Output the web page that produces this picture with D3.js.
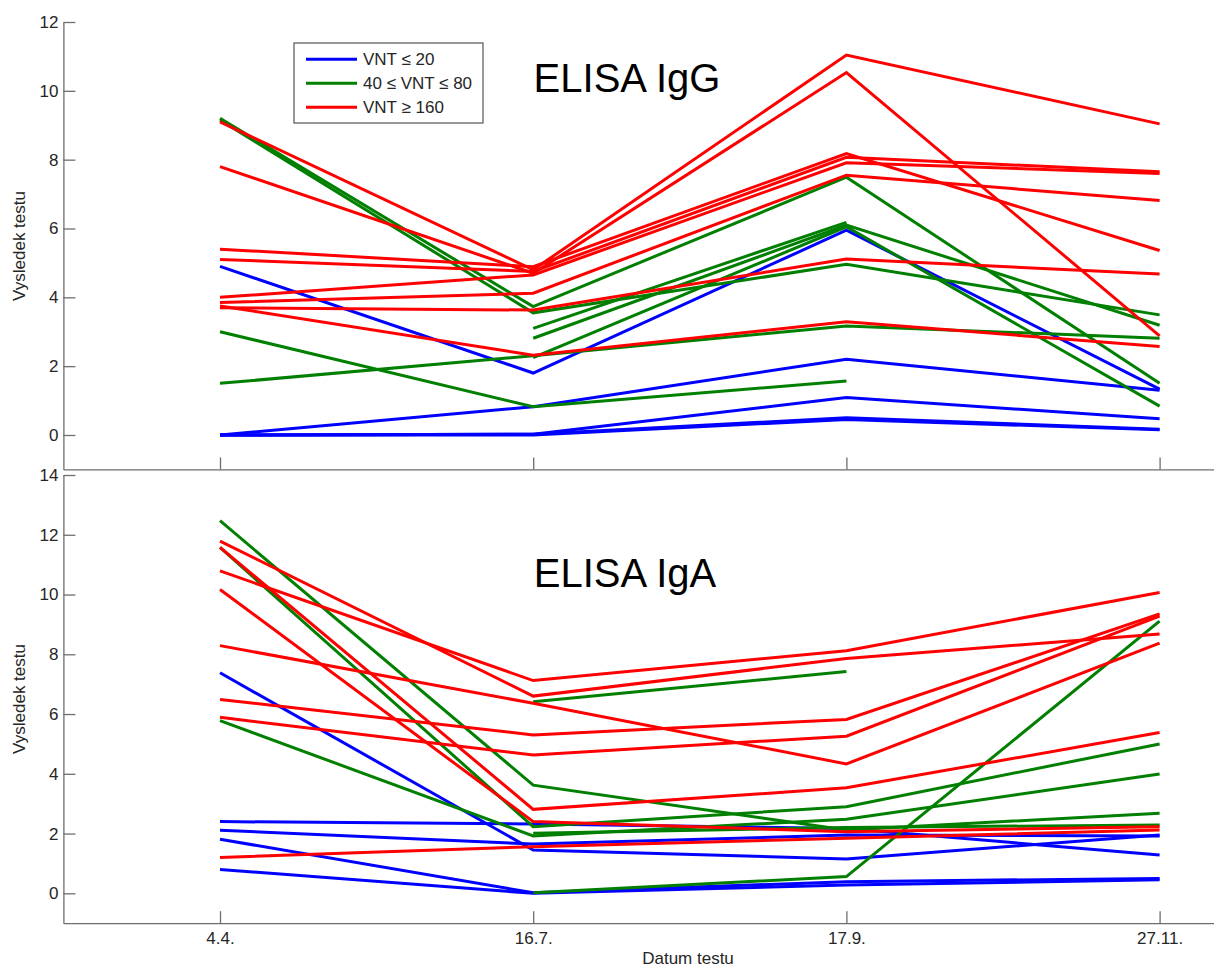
<!DOCTYPE html>
<html>
<head>
<meta charset="utf-8">
<script src="https://cdn.jsdelivr.net/npm/d3@7"></script>
<style>
  html, body { margin: 0; padding: 0; background: #fff; }
  svg { display: block; font-family: "Liberation Sans", Arial, Helvetica, sans-serif; }
</style>
</head>
<body>
<svg id="chart" width="1214" height="969"></svg>
<script>
// ---- data ----
const dates = ["4.4.", "16.7.", "17.9.", "27.11."];
const groupNames = ["VNT \u2264 20", "40 \u2264 VNT \u2264 80", "VNT \u2265 160"];
const groupColors = ["#0000ff", "#007f00", "#ff0000"];
const yTicksIgG = [0, 2, 4, 6, 8, 10, 12];
const yTicksIgA = [0, 2, 4, 6, 8, 10, 12, 14];

// ELISA IgG, one row per subject, columns = dates (null = not measured)
const iggLow = [
  [4.9, 1.8, 5.95, 1.33],
  [0, 0.82, 2.2, 1.3],
  [0, 0.02, 1.09, 0.47],
  [0, 0.02, 0.5, 0.17],
  [0, 0, 0.45, 0.15]
];
const iggMid = [
  [9.2, 3.73, 7.49, 1.5],
  [9.15, 3.55, 4.96, 3.49],
  [3.0, 0.82, 1.57, null],
  [1.5, 2.3, 3.17, 2.81],
  [null, 3.1, 6.18, null],
  [null, 2.81, 6.1, 3.19],
  [null, 2.25, 6.05, 0.84]
];
const iggHigh = [
  [9.1, 4.8, 11.04, 9.04],
  [7.8, 4.7, 10.53, 2.88],
  [5.4, 4.89, 8.18, 5.36],
  [5.1, 4.75, 8.07, 7.65],
  [4.0, 4.65, 7.91, 7.6],
  [3.85, 4.12, 7.55, 6.81],
  [3.7, 3.63, 5.11, 4.68],
  [3.75, 2.32, 3.29, 2.57]
];

// ELISA IgA
const igaLow = [
  [7.38, 1.45, 1.15, 1.95],
  [2.4, 2.32, 2.17, 1.28],
  [2.11, 1.65, 1.95, 1.92],
  [1.81, 0.02, 0.39, 0.5],
  [0.8, 0.0, 0.28, 0.45]
];
const igaMid = [
  [12.47, 3.62, 2.12, 2.68],
  [11.58, 2.23, 2.9, 5.0],
  [5.78, 1.92, 2.48, 3.99],
  [null, 2.01, 2.2, 2.29],
  [null, 6.41, 7.42, null],
  [null, 0.02, 0.56, 9.11]
];
const igaHigh = [
  [11.79, 6.6, 7.86, 8.68],
  [10.79, 7.12, 8.12, 10.07],
  [8.29, 6.36, 4.33, 8.37],
  [6.49, 5.3, 5.82, 9.35],
  [5.89, 4.63, 5.26, 9.28],
  [11.58, 2.81, 3.53, 5.38],
  [10.17, 2.4, 2.06, 2.23],
  [1.2, 1.56, 1.84, 2.12]
];

// ---- drawing ----
const svg = d3.select("#chart");
const axisColor = "#6e6e6e";
const textColor = "#262626";
const fontSize = 17;

const x = d3.scaleLinear().domain([0.5, 4.5]).range([63.4, 1316.2]);

const panels = [
  { title: "ELISA IgG", groups: [iggLow, iggMid, iggHigh], domain: [-1, 12], range: [469.4, 22], ticks: yTicksIgG,
    showX: false, titleX: 627, titleY: 92, ylabY: 246 },
  { title: "ELISA IgA", groups: [igaLow, igaMid, igaHigh], domain: [-1, 14], range: [923.2, 475], ticks: yTicksIgA,
    showX: true, titleX: 625, titleY: 587, ylabY: 699 }
];

panels.forEach(p => {
  const y = d3.scaleLinear().domain(p.domain).range(p.range);
  const g = svg.append("g");

  // axes
  const yAxis = d3.axisLeft(y).tickValues(p.ticks).tickSize(-12).tickSizeOuter(0).tickPadding(5);
  const ya = g.append("g").attr("transform", `translate(${x.range()[0]},0)`).call(yAxis);
  const xAxis = d3.axisBottom(x).tickValues([1, 2, 3, 4]).tickSize(-12).tickSizeOuter(0).tickPadding(9)
    .tickFormat(d => p.showX ? dates[d - 1] : "");
  const xa = g.append("g").attr("transform", `translate(0,${p.range[0]})`).call(xAxis);
  [ya, xa].forEach(a => {
    a.selectAll("path.domain").attr("stroke", axisColor).attr("stroke-width", 1.3);
    a.selectAll(".tick line").attr("stroke", axisColor).attr("stroke-width", 1.3);
    a.selectAll(".tick text").attr("fill", textColor).attr("font-size", fontSize)
      .attr("font-family", "Liberation Sans, Arial, sans-serif");
  });

  // y label
  g.append("text")
    .attr("transform", `translate(25,${p.ylabY}) rotate(-90)`)
    .attr("text-anchor", "middle")
    .attr("font-size", fontSize)
    .attr("fill", textColor)
    .text("Vysledek testu");

  // lines
  const line = d3.line()
    .defined(d => d.v !== null)
    .x(d => x(d.i + 1))
    .y(d => y(d.v));

  p.groups.forEach((rows, gi) => {
    rows.forEach(row => {
      g.append("path")
        .datum(row.map((v, i) => ({ i, v })))
        .attr("d", line)
        .attr("fill", "none")
        .attr("stroke", groupColors[gi])
        .attr("stroke-width", 3);
    });
  });

  // title
  g.append("text")
    .attr("x", p.titleX).attr("y", p.titleY)
    .attr("text-anchor", "middle")
    .attr("font-size", 40)
    .attr("fill", "#000")
    .text(p.title);
});

// x label
svg.append("text")
  .attr("x", 688).attr("y", 964)
  .attr("text-anchor", "middle")
  .attr("font-size", fontSize)
  .attr("fill", textColor)
  .text("Datum testu");

// legend
const lg = svg.append("g");
lg.append("rect").attr("x", 294).attr("y", 43).attr("width", 189).attr("height", 80)
  .attr("fill", "#fff").attr("stroke", "#555").attr("stroke-width", 1.2);
groupNames.forEach((name, i) => {
  const yy = 59.3 + i * 24;
  lg.append("line").attr("x1", 306).attr("x2", 357).attr("y1", yy).attr("y2", yy)
    .attr("stroke", groupColors[i]).attr("stroke-width", 3);
  lg.append("text").attr("x", 363).attr("y", yy).attr("dy", "0.35em")
    .attr("font-size", fontSize).attr("fill", textColor).text(name);
});
</script>
</body>
</html>
